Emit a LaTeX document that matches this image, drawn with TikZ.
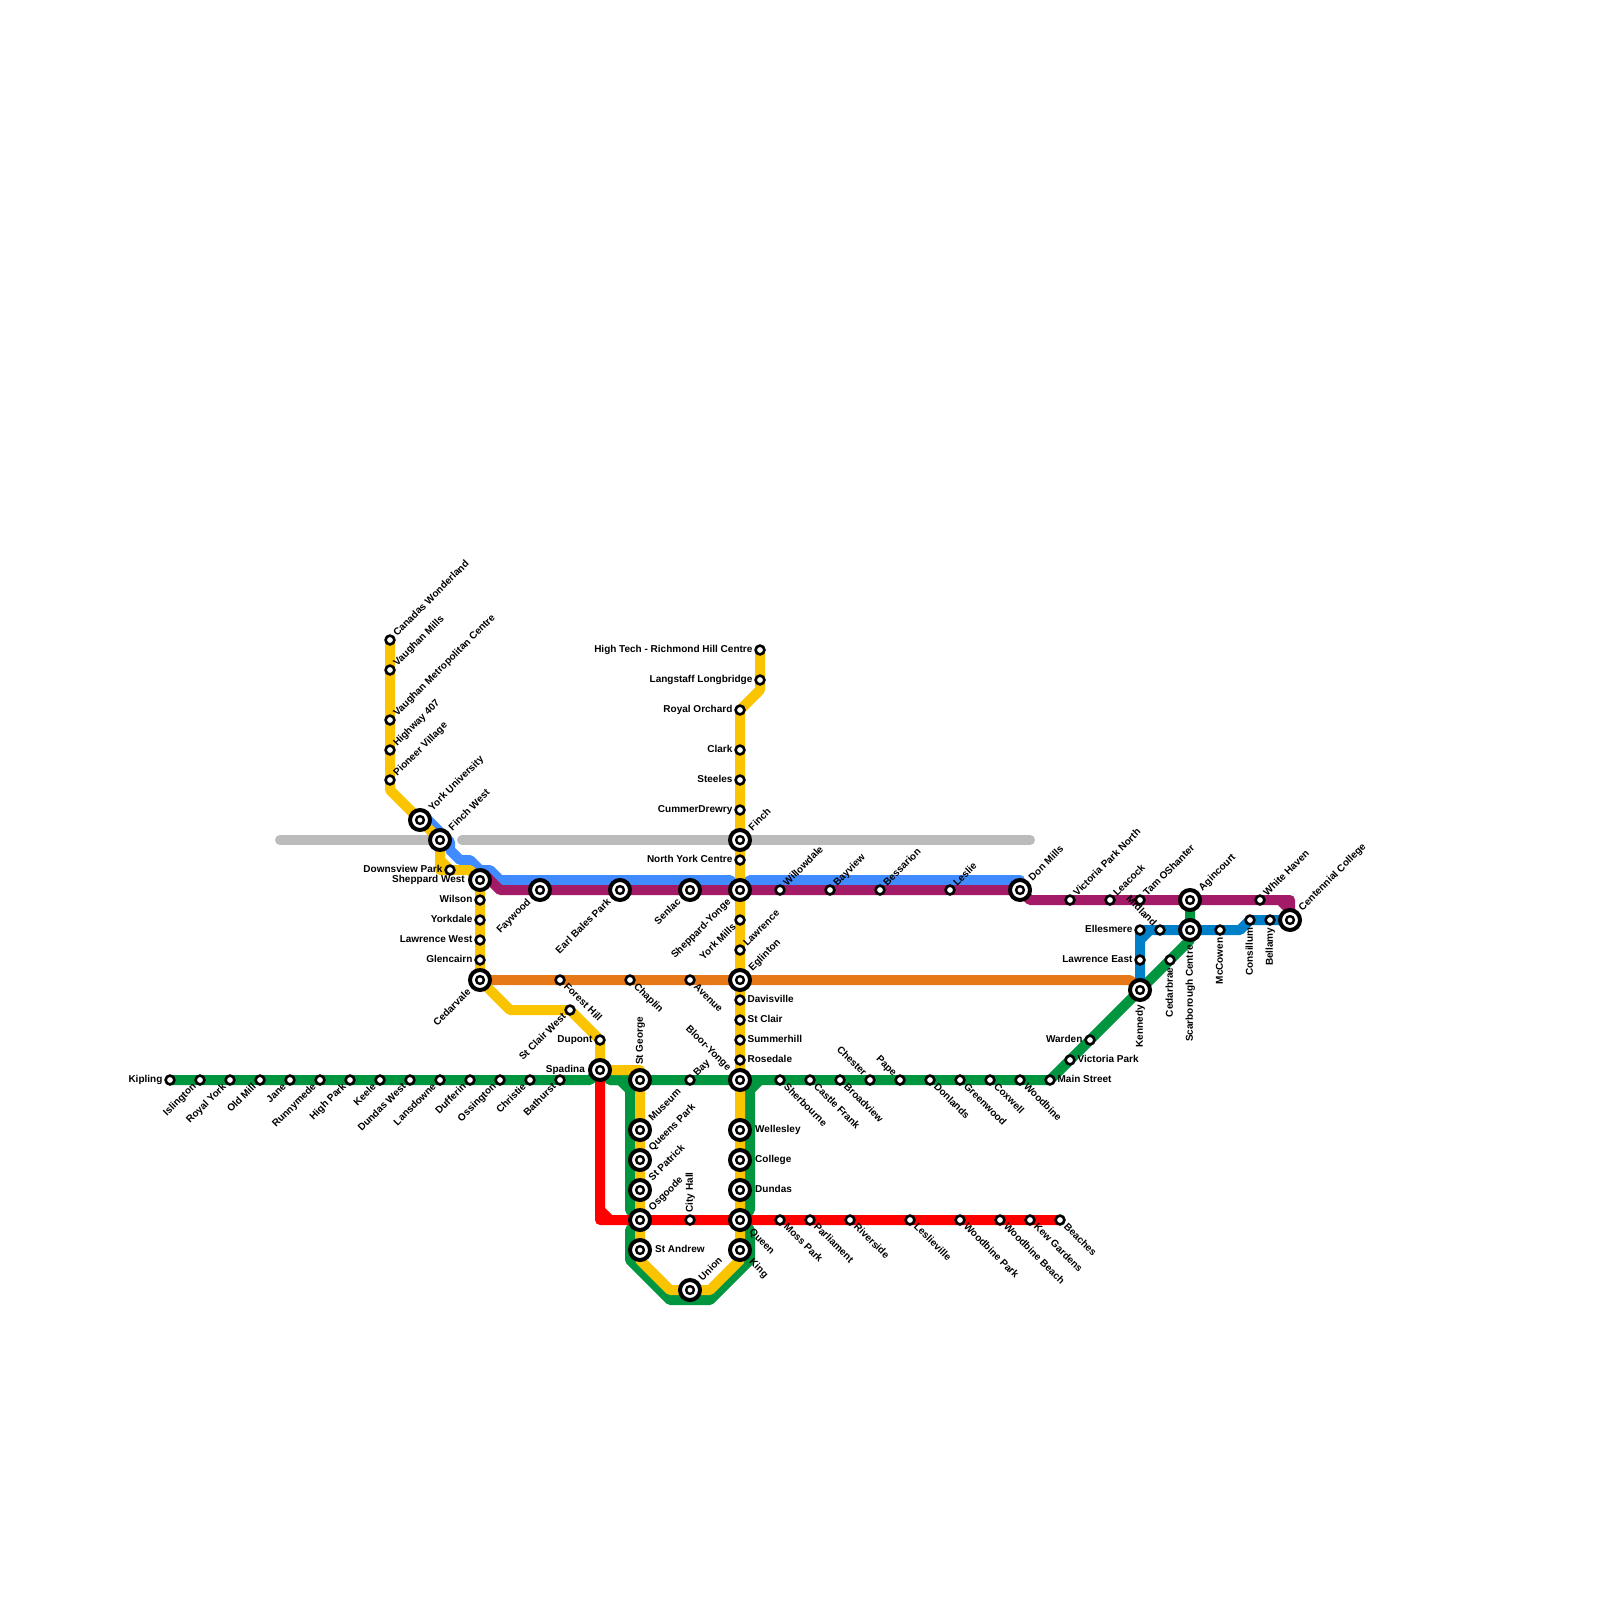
\documentclass[tikz,border=0pt]{standalone}
\usepackage{fontspec}
\usepackage{xcolor}
\usetikzlibrary{backgrounds}
\newfontfamily\lblfont{Liberation Sans}
\definecolor{ttcgreen}{HTML}{00963F}
\definecolor{ttcyellow}{HTML}{FAC400}
\definecolor{ttcblue}{HTML}{3F8BFF}
\definecolor{ttcpurple}{HTML}{A31A66}
\definecolor{ttcorange}{HTML}{E67818}
\definecolor{ttcred}{HTML}{FF0000}
\definecolor{ttcteal}{HTML}{0080C8}
\definecolor{ttcgrey}{HTML}{BBBBBB}

\begin{document}
\begin{tikzpicture}[
    x=1pt, y=-1pt,
    stn/.style={circle, draw=black, fill=white, line width=2.6pt, minimum size=8.8pt, inner sep=0pt, outer sep=2pt},
    hub/.style={circle, draw=black, fill=white, line width=4pt, minimum size=20pt, inner sep=0pt, outer sep=4pt,
        path picture={\draw[line width=2.4pt, fill=white] (path picture bounding box.center) circle (3.9pt);}},
    lbl/.style={font=\lblfont\bfseries\fontsize{10}{12}\selectfont, text=black, inner sep=1pt, text height=7.5pt, text depth=2pt},
    lne/.style={label={[lbl, rotate=45, anchor=west]45:{#1}}},
    lsw/.style={label={[lbl, rotate=45, anchor=east]225:{#1}}},
    lse/.style={label={[lbl, rotate=-45, anchor=west]-45:{#1}}},
    lnw/.style={label={[lbl, rotate=-45, anchor=east]135:{#1}}},
    lup/.style={label={[lbl, rotate=90, anchor=west]90:{#1}}},
    ldn/.style={label={[lbl, rotate=90, anchor=east]270:{#1}}},
    llf/.style={label={[lbl, anchor=east]180:{#1}}},
    lrt/.style={label={[lbl, anchor=west]0:{#1}}},
    route/.style={line width=10pt, line cap=round, line join=round}
]
\useasboundingbox (0,0) rectangle (1600,1600);

% bloor west
\node[stn, llf={Kipling}] (kipling) at (170,1080) {};
\node[stn, lsw={Islington}] (islington) at (200,1080) {};
\node[stn, lsw={Royal York}] (royalyork) at (230,1080) {};
\node[stn, lsw={Old Mill}] (oldmill) at (260,1080) {};
\node[stn, lsw={Jane}] (jane) at (290,1080) {};
\node[stn, lsw={Runnymede}] (runnymede) at (320,1080) {};
\node[stn, lsw={High Park}] (highpark) at (350,1080) {};
\node[stn, lsw={Keele}] (keele) at (380,1080) {};
\node[stn, lsw={Dundas West}] (dundaswest) at (410,1080) {};
\node[stn, lsw={Lansdowne}] (lansdowne) at (440,1080) {};
\node[stn, lsw={Dufferin}] (dufferin) at (470,1080) {};
\node[stn, lsw={Ossington}] (ossington) at (500,1080) {};
\node[stn, lsw={Christie}] (christie) at (530,1080) {};
\node[stn, lsw={Bathurst}] (bathurst) at (560,1080) {};
\node[hub, llf={Spadina}] (spadina) at (600,1070) {};
\node[hub, lup={St George}] (stgeorge) at (640,1080) {};
\node[stn, lne={Bay}] (bay) at (690,1080) {};
\node[hub, lnw={Bloor-Yonge}] (blooryonge) at (740,1080) {};

% bloor east
\node[stn, lse={Sherbourne}] (sherbourne) at (780,1080) {};
\node[stn, lse={Castle Frank}] (castlefrank) at (810,1080) {};
\node[stn, lse={Broadview}] (broadview) at (840,1080) {};
\node[stn, lnw={Chester}] (chester) at (870,1080) {};
\node[stn, lnw={Pape}] (pape) at (900,1080) {};
\node[stn, lse={Donlands}] (donlands) at (930,1080) {};
\node[stn, lse={Greenwood}] (greenwood) at (960,1080) {};
\node[stn, lse={Coxwell}] (coxwell) at (990,1080) {};
\node[stn, lse={Woodbine}] (woodbine) at (1020,1080) {};
\node[stn, lrt={Main Street}] (mainstreet) at (1050,1080) {};
\node[stn, lrt={Victoria Park}] (victoriapark) at (1070,1060) {};
\node[stn, llf={Warden}] (warden) at (1090,1040) {};
\node[hub, ldn={Kennedy}] (kennedy) at (1140,990) {};
\node[stn, ldn={Cedarbrae}] (cedarbrae) at (1170,960) {};
\node[hub, ldn={Scarborough Centre}] (scarborough) at (1190,930) {};
\node[hub, lne={Agincourt}] (agincourt) at (1190,900) {};

% university side
\node[stn, lne={Canadas Wonderland}] (wonderland) at (390,640) {};
\node[stn, lne={Vaughan Mills}] (vaughanmills) at (390,670) {};
\node[stn, lne={Vaughan Metropolitan Centre}] (vaughanmetro) at (390,720) {};
\node[stn, lne={Highway 407}] (highway) at (390,750) {};
\node[stn, lne={Pioneer Village}] (pioneer) at (390,780) {};
\node[hub, lne={York University}] (yorkuni) at (420,820) {};
\node[hub, lne={Finch West}] (finchwest) at (440,840) {};
\node[stn, llf={Downsview Park}] (downsview) at (450,870) {};
\node[hub, llf={Sheppard West}] (sheppardwest) at (480,880) {};
\node[stn, llf={Wilson}] (wilson) at (480,900) {};
\node[stn, llf={Yorkdale}] (yorkdale) at (480,920) {};
\node[stn, llf={Lawrence West}] (lawrencewest) at (480,940) {};
\node[stn, llf={Glencairn}] (glencairn) at (480,960) {};
\node[hub, lsw={Cedarvale}] (cedarvale) at (480,980) {};
\node[stn, lsw={St Clair West}] (stclairwest) at (570,1010) {};
\node[stn, llf={Dupont}] (dupont) at (600,1040) {};
\node[hub, lne={Museum}] (museum) at (640,1130) {};
\node[hub, lne={Queens Park}] (queenspark) at (640,1160) {};
\node[hub, lne={St Patrick}] (stpatrick) at (640,1190) {};
\node[hub, lne={Osgoode}] (osgoode) at (640,1220) {};
\node[hub, lrt={St Andrew}] (standrew) at (640,1250) {};
\node[hub, lne={Union}] (union) at (690,1290) {};

% yonge side
\node[hub, lse={King}] (king) at (740,1250) {};
\node[hub, lse={Queen}] (queen) at (740,1220) {};
\node[hub, lrt={Dundas}] (dundas) at (740,1190) {};
\node[hub, lrt={College}] (college) at (740,1160) {};
\node[hub, lrt={Wellesley}] (wellesley) at (740,1130) {};
\node[stn, lrt={Rosedale}] (rosedale) at (740,1060) {};
\node[stn, lrt={Summerhill}] (summerhill) at (740,1040) {};
\node[stn, lrt={St Clair}] (stclair) at (740,1020) {};
\node[stn, lrt={Davisville}] (davisville) at (740,1000) {};
\node[hub, lne={Eglinton}] (eglinton) at (740,980) {};
\node[stn, lne={Lawrence}] (lawrence) at (740,950) {};
\node[stn, lsw={York Mills}] (yorkmills) at (740,920) {};
\node[hub, lsw={Sheppard-Yonge}] (sheppardyonge) at (740,890) {};
\node[stn, llf={North York Centre}] (northyork) at (740,860) {};
\node[hub, lne={Finch}] (finch) at (740,840) {};
\node[stn, llf={CummerDrewry}] (cummer) at (740,810) {};
\node[stn, llf={Steeles}] (steeles) at (740,780) {};
\node[stn, llf={Clark}] (clark) at (740,750) {};
\node[stn, llf={Royal Orchard}] (royalorchard) at (740,710) {};
\node[stn, llf={Langstaff Longbridge}] (langstaff) at (760,680) {};
\node[stn, llf={High Tech - Richmond Hill Centre}] (hightech) at (760,650) {};

% sheppard
\node[hub, lsw={Faywood}] (faywood) at (540,890) {};
\node[hub, lsw={Earl Bales Park}] (earlbales) at (620,890) {};
\node[hub, lsw={Senlac}] (senlac) at (690,890) {};
\node[stn, lne={Willowdale}] (willowdale) at (780,890) {};
\node[stn, lne={Bayview}] (bayview) at (830,890) {};
\node[stn, lne={Bessarion}] (bessarion) at (880,890) {};
\node[stn, lne={Leslie}] (leslie) at (950,890) {};
\node[hub, lne={Don Mills}] (donmills) at (1020,890) {};
\node[stn, lne={Victoria Park North}] (vicparknorth) at (1070,900) {};
\node[stn, lne={Leacock}] (leacock) at (1110,900) {};
\node[stn, lne={Tam OShanter}] (tamoshanter) at (1140,900) {};
\node[stn, lne={White Haven}] (whitehaven) at (1260,900) {};
\node[hub, lne={Centennial College}] (centennial) at (1290,920) {};

% eglinton
\node[stn, lse={Forest Hill}] (foresthill) at (560,980) {};
\node[stn, lse={Chaplin}] (chaplin) at (630,980) {};
\node[stn, lse={Avenue}] (avenue) at (690,980) {};

% scarborough
\node[stn, llf={Lawrence East}] (lawrenceeast) at (1140,960) {};
\node[stn, llf={Ellesmere}] (ellesmere) at (1140,930) {};
\node[stn, lnw={Midland}] (midland) at (1160,930) {};
\node[stn, ldn={McCowen}] (mccowen) at (1220,930) {};
\node[stn, ldn={Consillum}] (consillum) at (1250,920) {};
\node[stn, ldn={Bellamy}] (bellamy) at (1270,920) {};

% queen
\node[stn, lup={City Hall}] (cityhall) at (690,1220) {};
\node[stn, lse={Moss Park}] (mosspark) at (780,1220) {};
\node[stn, lse={Parliament}] (parliament) at (810,1220) {};
\node[stn, lse={Riverside}] (riverside) at (850,1220) {};
\node[stn, lse={Leslieville}] (leslieville) at (910,1220) {};
\node[stn, lse={Woodbine Park}] (woodbinepark) at (960,1220) {};
\node[stn, lse={Woodbine Beach}] (woodbinebeach) at (1000,1220) {};
\node[stn, lse={Kew Gardens}] (kewgardens) at (1030,1220) {};
\node[stn, lse={Beaches}] (beaches) at (1060,1220) {};

\coordinate (greywest) at (280,840);
\coordinate (greymid) at (462,840);
\coordinate (greyeast) at (1030,840);

\begin{scope}[on background layer]
\draw[route, ttcgrey] (greywest) -- (finchwest.center) (greymid) -- (finch.center) -- (greyeast);
\draw[route, ttcblue] (yorkuni.center) -- (423,815) -- (450,842) -- (450,850) -- (460,860) -- (470,860) -- (480,870) -- (490,870) -- (500,880) -- (730,880) -- (sheppardyonge.center) -- (750,880) -- (1020,880) -- (donmills.center);
\draw[route, ttcgreen] (kipling.center) -- (bathurst.center) -- (590,1080) -- (spadina.center) -- (610,1080) -- (stgeorge.center) -- (bay.center) -- (blooryonge.center) -- (mainstreet.center) -- (victoriapark.center) -- (warden.center) -- (kennedy.center) -- (cedarbrae.center) -- (1190,940) -- (agincourt.center);
\draw[route, ttcgreen] (610,1080) -- (620,1080) -- (630,1090) -- (630,1210) -- (osgoode.center) -- (630,1230) -- (630,1260) -- (670,1300) -- (710,1300) -- (750,1260) -- (750,1230) -- (queen.center) -- (750,1210) -- (750,1090) -- (760,1080);
\draw[route, ttcorange] (cedarvale.center) -- (1130,980) -- (kennedy.center);
\draw[route, ttcred] (spadina.center) -- (600,1220) -- (beaches.center) (600,1210) -- (610,1220);
\draw[route, ttcteal] (kennedy.center) -- (ellesmere.center) -- (scarborough.center) -- (1240,930) -- (consillum.center) -- (centennial.center) (1140,940) -- (1150,930);
\draw[route, ttcpurple] (sheppardwest.center) -- (484,874) -- (500,890) -- (donmills.center) -- (1030,900) -- (1290,900) -- (centennial.center) (1280,900) -- (1290,910);
\draw[route, ttcyellow] (wonderland.center) -- (390,790) -- (yorkuni.center) -- (finchwest.center) -- (440,870) -- (470,870) -- (sheppardwest.center) -- (cedarvale.center) -- (510,1010) -- (stclairwest.center) -- (dupont.center) -- (spadina.center) -- (640,1070) -- (standrew.center) -- (640,1260) -- (670,1290) -- (710,1290) -- (740,1260) -- (royalorchard.center) -- (760,690) -- (hightech.center) (440,860) -- (450,870);
\end{scope}
\end{tikzpicture}
\end{document}
